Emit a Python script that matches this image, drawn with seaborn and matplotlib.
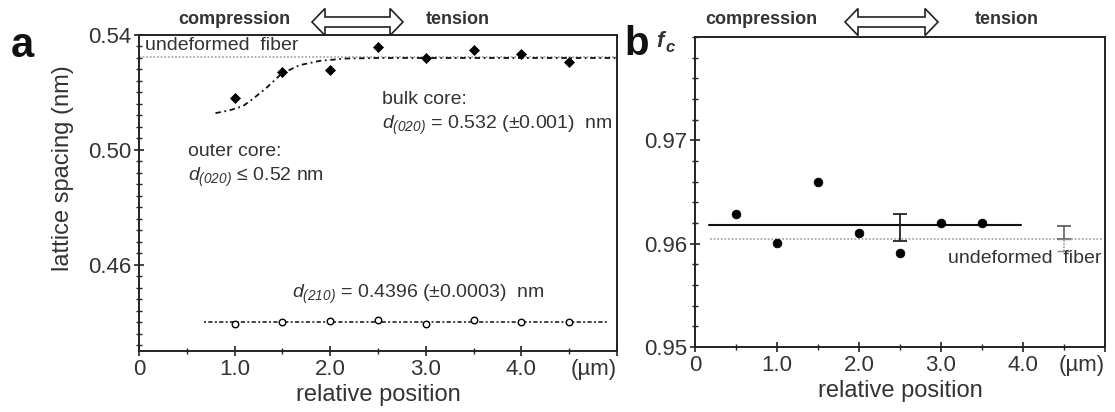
import numpy as np
import pandas as pd
import matplotlib
matplotlib.use("Agg")
import matplotlib.pyplot as plt
from matplotlib.patches import Polygon
from matplotlib.ticker import MultipleLocator
import seaborn as sns

# ---------------- data ----------------
pos_a = [1.0, 1.5, 2.0, 2.5, 3.0, 3.5, 4.0, 4.5]
d020 = [0.5180, 0.5272, 0.5278, 0.5357, 0.5320, 0.5348, 0.5334, 0.5307]
d210 = [0.4395, 0.4401, 0.4404, 0.4409, 0.4393, 0.4409, 0.4401, 0.4401]
d210_line_x = [0.68, 4.9]
d210_line_y = [0.4400, 0.4400]
fit_x = [0.80, 0.95, 1.09, 1.20, 1.33, 1.49, 1.68, 1.89, 2.16, 2.50, 3.0, 3.5, 4.0, 4.5, 5.0]
fit_y = [0.5128, 0.5138, 0.5153, 0.5180, 0.5215, 0.5265, 0.5295, 0.5310, 0.5318, 0.5320,
         0.5320, 0.5320, 0.5320, 0.5320, 0.5320]
undeformed_a = 0.5325

pos_b = [0.5, 1.0, 1.5, 2.0, 2.5, 3.0, 3.5]
fc = [0.9629, 0.9601, 0.9660, 0.9610, 0.9591, 0.9620, 0.9620]
fc_mean_x = [0.17, 3.98]
fc_mean = 0.9618
fc_err_x, fc_err_c, fc_err = 2.5, 0.9616, 0.0013
undeformed_b = 0.9605
und_err_x, und_err = 4.5, 0.0012

xticks = [0, 1, 2, 3, 4, 5]
xticklabels = ["0", "1.0", "2.0", "3.0", "4.0", "(µm)"]
yticks_a = [0.46, 0.50, 0.54]
yticks_b = [0.95, 0.96, 0.97]

# ---------------- style ----------------
sns.set_style("ticks")
plt.rcParams['font.family'] = ['Liberation Sans', 'DejaVu Sans']
plt.rcParams['mathtext.fontset'] = 'custom'
plt.rcParams['mathtext.rm'] = 'Liberation Sans:italic'
plt.rcParams['mathtext.it'] = 'Liberation Sans:italic'
plt.rcParams['mathtext.bf'] = 'Liberation Sans:bold'

TXT = '#333333'
AX = '#222222'
W, H = 1115, 412
fig = plt.figure(figsize=(W / 100, H / 100), dpi=100)

def fx(px):
    return px / W

def fy(py):
    return 1 - py / H

axA = fig.add_axes([fx(139), fy(351), fx(617) - fx(139), fy(35) - fy(351)])
axB = fig.add_axes([fx(695), fy(347), fx(1105) - fx(695), fy(37) - fy(347)])

for ax in (axA, axB):
    for s in ax.spines.values():
        s.set_color(AX)
        s.set_linewidth(1.4)
    ax.set_xlim(0, 5)
    ax.set_xticks(xticks)
    ax.set_xticklabels(xticklabels)
    ax.xaxis.set_minor_locator(MultipleLocator(0.5))
    ax.tick_params(axis='both', which='major', direction='inout', length=7, width=1.2,
                   colors=AX, labelcolor=TXT, labelsize=16, pad=2)
    ax.tick_params(axis='both', which='minor', direction='inout', length=5, width=1.0, colors=AX)
    ax.tick_params(top=False, right=False, which='both')
    lbls = ax.get_xticklabels()
    lbls[-1].set_horizontalalignment('right')
    ax.set_xlabel("relative position", fontsize=17, color=TXT, labelpad=3)

# ---------------- panel a ----------------
axA.set_ylim(0.43, 0.54)
axA.set_yticks(yticks_a)
axA.set_yticklabels(["0.46", "0.50", "0.54"])
axA.yaxis.set_minor_locator(MultipleLocator(0.004))
axA.set_ylabel("lattice spacing (nm)", fontsize=17, color=TXT)
axA.yaxis.set_label_coords(-0.135, 0.58)

axA.axhline(undeformed_a, color='#aaaaaa', lw=1.3, ls=(0, (1, 1)), zorder=1)
sns.lineplot(x=fit_x, y=fit_y, ax=axA, color='#111111', lw=1.3, sort=False,
             estimator=None, dashes=False, zorder=2)
axA.lines[-1].set_linestyle((0, (3, 2, 1, 2)))
sns.lineplot(x=d210_line_x, y=d210_line_y, ax=axA, color='#222222', lw=1.2,
             estimator=None, zorder=2)
axA.lines[-1].set_linestyle((0, (1.2, 1.4, 2.5, 1.4)))
sns.scatterplot(x=pos_a, y=d020, ax=axA, marker='D', s=26, color='black',
                edgecolor='black', linewidth=0.5, zorder=4)
sns.scatterplot(x=pos_a, y=d210, ax=axA, marker='o', s=22, facecolor='white',
                edgecolor='black', linewidth=1.0, zorder=4)

axA.text(0.06, 0.5362, "undeformed  fiber", fontsize=14, color=TXT, va='center', ha='left')
axA.text(2.54, 0.5174, "bulk core:", fontsize=14, color=TXT, va='center', ha='left')
axA.text(2.54, 0.5087, r"$d_{(020)}$" + " = 0.532 (±0.001)  nm",
         fontsize=14, color=TXT, va='center', ha='left')
axA.text(0.51, 0.4993, "outer core:", fontsize=14, color=TXT, va='center', ha='left')
axA.text(0.51, 0.4906, r"$d_{(020)}$" + " ≤ 0.52 nm",
         fontsize=14, color=TXT, va='center', ha='left')
axA.text(1.60, 0.4497, r"$d_{(210)}$" + " = 0.4396 (±0.0003)  nm",
         fontsize=14, color=TXT, va='center', ha='left')

# ---------------- panel b ----------------
axB.set_ylim(0.95, 0.98)
axB.set_yticks(yticks_b)
axB.set_yticklabels(["0.95", "0.96", "0.97"])
axB.yaxis.set_minor_locator(MultipleLocator(0.002))

axB.axhline(undeformed_b, xmin=0.036, xmax=0.992, color='#aaaaaa', lw=1.3,
            ls=(0, (1, 1)), zorder=1)
sns.lineplot(x=fc_mean_x, y=[fc_mean, fc_mean], ax=axB, color='#111111', lw=1.5,
             estimator=None, zorder=2)
axB.errorbar([fc_err_x], [fc_err_c], yerr=[[fc_err], [fc_err]], fmt='none',
             ecolor='#222222', elinewidth=1.3, capsize=5, capthick=1.3, zorder=3)
eb_up = axB.errorbar([und_err_x], [undeformed_b], yerr=[[0], [und_err]], fmt='none',
                     ecolor='#555555', elinewidth=1.1, capsize=5, capthick=1.2, zorder=3)
eb_dn = axB.errorbar([und_err_x], [undeformed_b], yerr=[[und_err], [0]], fmt='none',
                     ecolor='#888888', elinewidth=1.1, capsize=5, capthick=1.0, zorder=3)
for c in eb_dn[2]:
    c.set_linestyle((0, (1, 1)))
sns.scatterplot(x=pos_b, y=fc, ax=axB, marker='o', s=40, color='black',
                edgecolor='black', linewidth=0.5, zorder=4)
axB.text(3.09, 0.9586, "undeformed  fiber", fontsize=14, color=TXT, va='center', ha='left')

# f_c label
axB.text(-0.095, 0.985, "f", transform=axB.transAxes, fontsize=16, fontweight='bold',
         fontstyle='italic', color=TXT, ha='left', va='center')
axB.text(-0.072, 0.965, "c", transform=axB.transAxes, fontsize=12, fontweight='bold',
         fontstyle='italic', color=TXT, ha='left', va='center')

# ---------------- panel letters and headers ----------------
fig.text(fx(11), fy(57), "a", fontsize=30, fontweight='bold', color='#111111', va='baseline')
fig.text(fx(624), fy(55), "b", fontsize=29, fontweight='bold', color='#111111', va='baseline')

def header(cx_comp, cx_tens, x0, x1, cy):
    fig.text(fx(cx_comp), fy(cy), "compression", fontsize=13, fontweight='bold',
             color=TXT, ha='center', va='center')
    fig.text(fx(cx_tens), fy(cy), "tension", fontsize=13, fontweight='bold',
             color=TXT, ha='center', va='center')
    hl, hh, sh, ay = 13, 13.5, 5, 22
    pts = [(x0, ay), (x0 + hl, ay - hh), (x0 + hl, ay - sh), (x1 - hl, ay - sh),
           (x1 - hl, ay - hh), (x1, ay), (x1 - hl, ay + hh), (x1 - hl, ay + sh),
           (x0 + hl, ay + sh), (x0 + hl, ay + hh)]
    poly = Polygon([(fx(p), fy(q)) for p, q in pts], closed=True, transform=fig.transFigure,
                   facecolor='white', edgecolor='#222222', lw=1.2)
    fig.add_artist(poly)

header(234, 458, 312, 403, 19)
header(761, 1007, 845, 938, 20)

fig.savefig("out.png", dpi=100)
